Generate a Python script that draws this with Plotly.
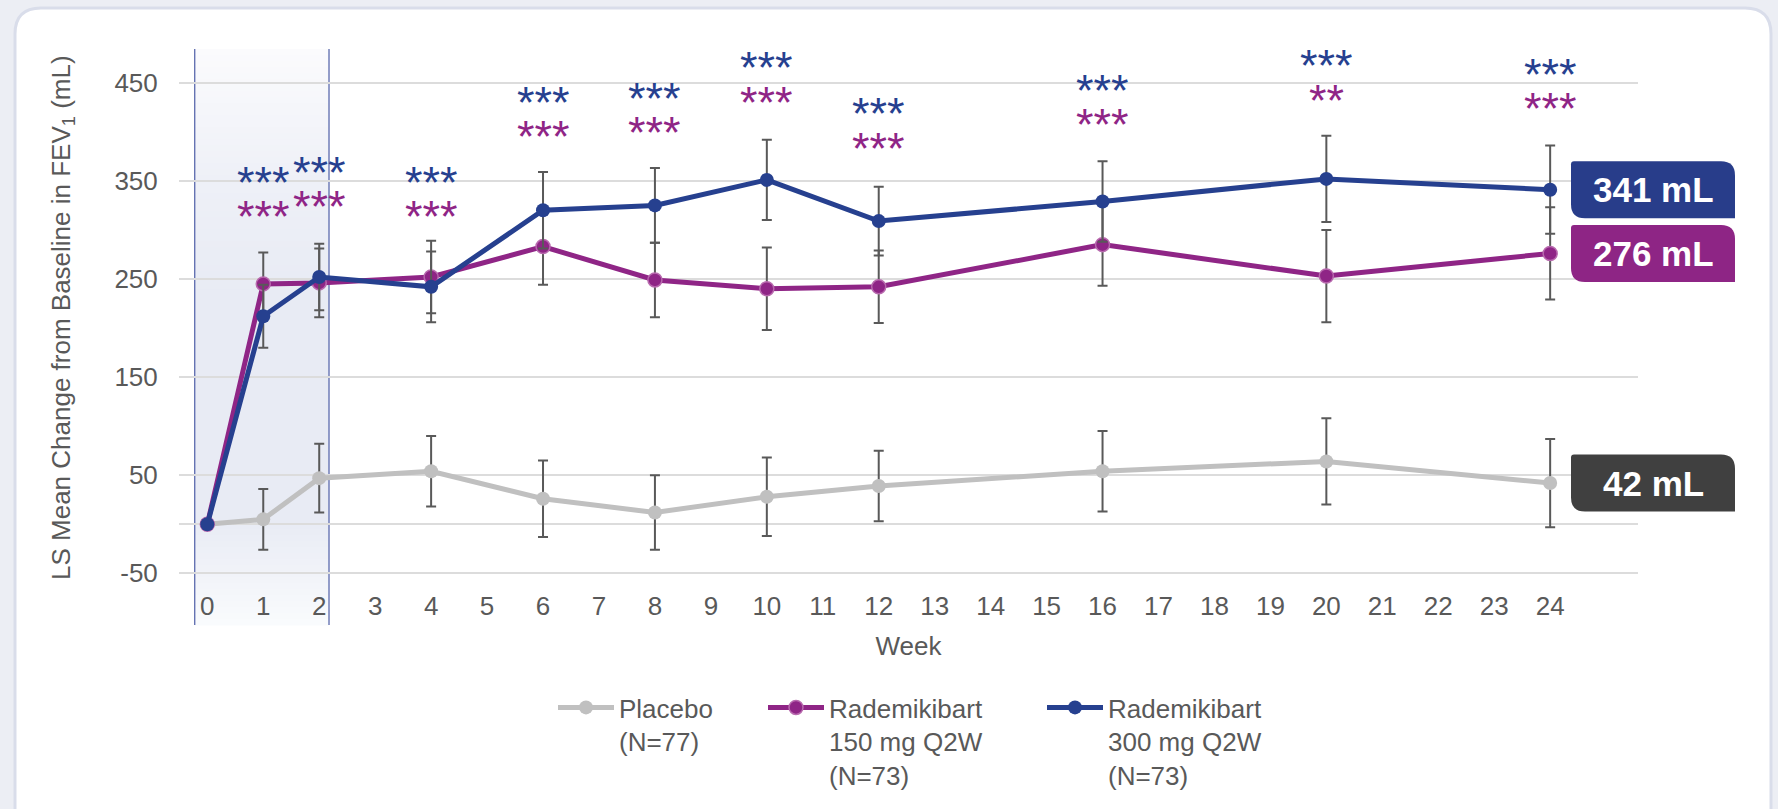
import plotly.graph_objects as go

# ---------------- data ----------------
weeks = [0, 1, 2, 4, 6, 8, 10, 12, 16, 20, 24]
placebo = [0, 5, 47, 54, 26, 12, 28, 39, 54, 64, 42]
placebo_se = [None, 31, 35, 36, 39, 38, 40, 36, 41, 44, 45]
r150 = [0, 245, 246, 252, 283, 249, 240, 242, 285, 253, 276]
r150_se = [None, 32, 35, 37, 39, 38, 42, 37, 42, 47, 47]
r300 = [0, 212, 252, 242, 320, 325, 351, 309, 329, 352, 341]
r300_se = [None, 32, 34, 36, 39, 38, 41, 35, 41, 44, 45]

sig_weeks = [1, 2, 4, 6, 8, 10, 12, 16, 20, 24]
sig_150 = ["***", "***", "***", "***", "***", "***", "***", "***", "**", "***"]
sig_300 = ["***", "***", "***", "***", "***", "***", "***", "***", "***", "***"]

series_names = ["Placebo<br>(N=77)",
                "Rademikibart<br>150 mg Q2W<br>(N=73)",
                "Rademikibart<br>300 mg Q2W<br>(N=73)"]
y_ticks = [-50, 50, 150, 250, 350, 450]
y_ticktext = ["-50", "50", "150", "250", "350", "450"]
x_ticks = list(range(0, 25))
y_title = "LS Mean Change from Baseline in FEV<sub>1</sub> (mL)"

# ---------------- layout / style ----------------
W, H = 1778, 809
L, R, T, B = 179, 1638, 49, 581
XR = [-0.506, 25.57]
YR = [-50 - (B - 573.3) / 0.981, 484.4]
shaded_weeks = [-0.225, 2.175]
# vertical placement (axis units) of the significance-star rows, per sig week
star_row_150 = [320, 330, 320, 402, 406, 437, 390, 414, 439, 430]
star_row_gap = 35
FONT = "Liberation Sans, Arial, sans-serif"
TXT = "#595959"
C_GRAY, C_PURPLE, C_BLUE = "#c0c0c0", "#8f2586", "#26408f"
BOX_COLORS = ["#404040", "#8e2585", "#283d8a"]
ERR = "#595959"


def px_x(p):
    return (p - L) / (R - L)


def px_y(p):
    return (B - p) / (B - T)


def val_to_py(v):
    return B - (v - YR[0]) / (YR[1] - YR[0]) * (B - T)


def rrect(x0, y0, x1, y1, tl, tr, br, bl):
    def P(x, y):
        return f"{px_x(x):.5f},{px_y(y):.5f}"
    s = f"M{P(x0 + tl, y0)} L{P(x1 - tr, y0)} Q{P(x1, y0)} {P(x1, y0 + tr)} "
    s += f"L{P(x1, y1 - br)} Q{P(x1, y1)} {P(x1 - br, y1)} "
    s += f"L{P(x0 + bl, y1)} Q{P(x0, y1)} {P(x0, y1 - bl)} "
    s += f"L{P(x0, y0 + tl)} Q{P(x0, y0)} {P(x0 + tl, y0)} Z"
    return s


fig = go.Figure()

series = [
    (placebo, placebo_se, C_GRAY, dict(color=C_GRAY, size=14), "legend"),
    (r150, r150_se, C_PURPLE, dict(color=C_PURPLE, size=14, line=dict(color="#b86aae", width=1.5)), "legend2"),
    (r300, r300_se, C_BLUE, dict(color=C_BLUE, size=14), "legend3"),
]
for (vals, se, col, mk, lg), name in zip(series, series_names):
    fig.add_trace(go.Scatter(
        x=weeks, y=vals, name=name, mode="lines+markers",
        line=dict(color=col, width=5), marker=mk,
        error_y=dict(type="data", array=se, color=ERR, thickness=2, width=5),
        legend=lg, cliponaxis=False,
    ))

shapes = []
# card
shapes.append(dict(type="path", xref="paper", yref="paper", layer="below",
                   path=rrect(15, 8, 1771, 860, 26, 26, 26, 26),
                   fillcolor="white", line=dict(color="#d9ddea", width=3)))
# gradient shaded region (weeks 0-2)
SH_TOP, SH_BOT = 49, 625
stops = [(49, (251, 251, 253)), (180, (238, 240, 247)), (300, (232, 235, 244)),
         (520, (232, 235, 244)), (625, (250, 251, 253))]


def col_at(py):
    for (a, ca), (b, cb) in zip(stops[:-1], stops[1:]):
        if a <= py <= b:
            t = (py - a) / (b - a)
            return tuple(round(ca[i] + (cb[i] - ca[i]) * t) for i in range(3))
    return stops[-1][1]


step = 6
py = SH_TOP
while py < SH_BOT:
    y2 = min(py + step, SH_BOT)
    c = col_at((py + y2) / 2)
    shapes.append(dict(type="rect", xref="x", yref="paper", layer="below",
                       x0=shaded_weeks[0], x1=shaded_weeks[1],
                       y0=px_y(y2 + 0.5), y1=px_y(py),
                       fillcolor=f"rgb{c}", line=dict(width=0)))
    py = y2
for xv in shaded_weeks:
    shapes.append(dict(type="line", xref="x", yref="paper", layer="below",
                       x0=xv, x1=xv, y0=px_y(SH_BOT), y1=px_y(SH_TOP),
                       line=dict(color="#5a69ad", width=1.3)))

annotations = []
# final value boxes
finals = [placebo[-1], r150[-1], r300[-1]]
for v, bc in zip(finals, BOX_COLORS):
    cy = val_to_py(v)
    shapes.append(dict(type="path", xref="paper", yref="paper", layer="above",
                       path=rrect(1571, cy - 28.5, 1735, cy + 28.5, 3, 14, 0, 14),
                       fillcolor=bc, line=dict(width=0)))
    annotations.append(dict(xref="paper", yref="paper", x=px_x(1653), y=px_y(cy),
                            text=f"<b>{v} mL</b>", showarrow=False,
                            font=dict(family=FONT, size=35, color="white"),
                            xanchor="center", yanchor="middle"))

# significance stars
for i, wk in enumerate(sig_weeks):
    y150 = star_row_150[i]
    y300 = y150 + star_row_gap
    for yy, txt, col in ((y150, sig_150[i], C_PURPLE), (y300, sig_300[i], C_BLUE)):
        annotations.append(dict(x=wk, y=yy, xref="x", yref="y", text=txt, showarrow=False,
                                font=dict(family=FONT, size=45, color=col),
                                height=34, valign="middle",
                                xanchor="center", yanchor="middle", yshift=-6))

# y-axis title
annotations.append(dict(xref="paper", yref="paper", x=px_x(62), y=px_y(318),
                        text=y_title, textangle=-90, showarrow=False,
                        font=dict(family=FONT, size=26, color=TXT),
                        xanchor="center", yanchor="middle"))

fig.update_layout(
    width=W, height=H,
    margin=dict(l=L, r=W - R, t=T, b=H - B, autoexpand=False),
    paper_bgcolor="#eceef4", plot_bgcolor="rgba(0,0,0,0)",
    font=dict(family=FONT, size=26, color=TXT),
    shapes=shapes, annotations=annotations,
    xaxis=dict(range=XR, tickmode="array", tickvals=x_ticks, ticktext=[str(t) for t in x_ticks],
               showgrid=False, zeroline=False, showline=False,
               ticks="outside", ticklen=2, tickcolor="rgba(0,0,0,0)",
               tickfont=dict(size=26, color=TXT),
               title=dict(text="Week", font=dict(size=26, color=TXT), standoff=16),
               automargin=False),
    yaxis=dict(range=YR, tickmode="array", tickvals=y_ticks, ticktext=y_ticktext,
               showgrid=True, gridcolor="#dcdcdc", gridwidth=1.5,
               zeroline=True, zerolinecolor="#dcdcdc", zerolinewidth=1.5, showline=False,
               ticks="outside", ticklen=15, tickcolor="rgba(0,0,0,0)",
               tickfont=dict(size=26, color=TXT),
               automargin=False),
    showlegend=True,
)
leg_common = dict(xref="container", yref="container", xanchor="left", yanchor="top",
                  font=dict(family=FONT, size=26, color=TXT), itemwidth=56, valign="top",
                  bgcolor="rgba(0,0,0,0)", borderwidth=0)
fig.update_layout(
    legend=dict(x=553 / W, y=1 - 684 / H, **leg_common),
    legend2=dict(x=763 / W, y=1 - 684 / H, **leg_common),
    legend3=dict(x=1042 / W, y=1 - 684 / H, **leg_common),
)

fig.write_html("out.html", config={"displayModeBar": False},
               post_script="document.body.style.margin='0';")
